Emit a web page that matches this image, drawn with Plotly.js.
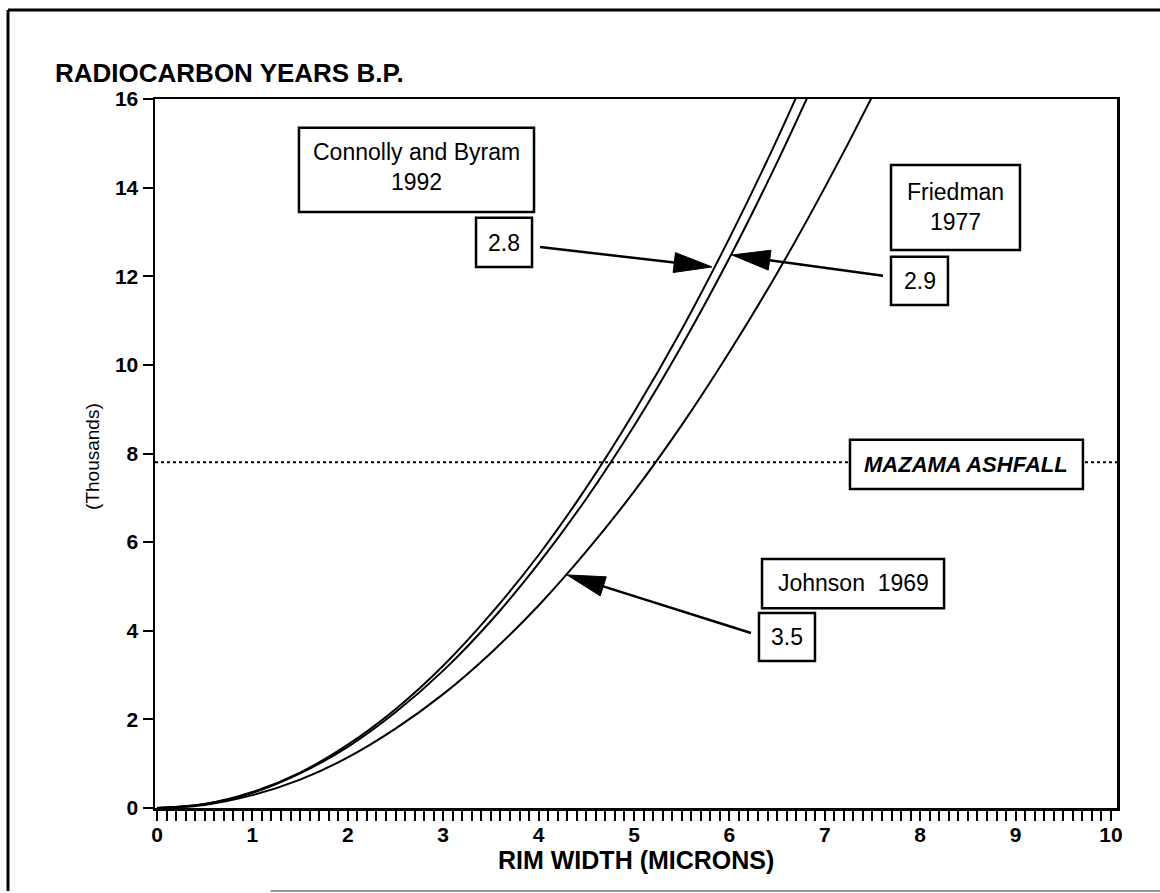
<!DOCTYPE html>
<html>
<head>
<meta charset="utf-8">
<script src="https://cdn.plot.ly/plotly-3.0.1.min.js"></script>
<style>html,body{margin:0;padding:0;background:#fff;}#chart{width:1160px;height:893px;}</style>
</head>
<body>
<div id="chart"></div>
<script>
// Rim width (microns)
const rimWidth = [0, 0.5, 1, 1.5, 2, 2.5, 3, 3.5, 4, 4.5, 5, 5.5, 6, 6.5, 7];
const rimWidthJohnson = [0, 0.5, 1, 1.5, 2, 2.5, 3, 3.5, 4, 4.5, 5, 5.5, 6, 6.5, 7, 7.5, 8];
// Radiocarbon years B.P. (thousands)
const connollyByram1992 = [0, 0.09, 0.36, 0.80, 1.43, 2.23, 3.21, 4.38, 5.71, 7.23, 8.93, 10.80, 12.86, 15.09, 17.5];
const friedman1977 = [0, 0.09, 0.34, 0.78, 1.38, 2.16, 3.10, 4.22, 5.52, 6.98, 8.62, 10.43, 12.41, 14.57, 16.9];
const johnson1969 = [0, 0.07, 0.29, 0.64, 1.14, 1.79, 2.57, 3.50, 4.57, 5.79, 7.14, 8.64, 10.29, 12.07, 14.0, 16.07, 18.3];
const mazamaAshfall = 7.8;
const xTicks = [0,1,2,3,4,5,6,7,8,9,10];
const yTicks = [0,2,4,6,8,10,12,14,16];

const FONT = "'Liberation Sans', Arial, Helvetica, sans-serif";
const lineStyle = {color: '#000', width: 2};

const traces = [
  {x: rimWidth, y: connollyByram1992, mode: 'lines', line: Object.assign({shape: 'spline'}, lineStyle), name: 'Connolly and Byram 1992'},
  {x: rimWidth, y: friedman1977, mode: 'lines', line: Object.assign({shape: 'spline'}, lineStyle), name: 'Friedman 1977'},
  {x: rimWidthJohnson, y: johnson1969, mode: 'lines', line: Object.assign({shape: 'spline'}, lineStyle), name: 'Johnson 1969'}
];

const KX = 95.4, KY = 44.31;
function arrowShapes(tail, tip) {
  const dx = (tail[0] - tip[0]) * KX, dy = (tail[1] - tip[1]) * KY;
  const L = Math.hypot(dx, dy), ux = dx / L, uy = dy / L;
  const headLen = 38, halfW = 10;
  const bx = tip[0] + headLen * ux / KX, by = tip[1] + headLen * uy / KY;
  const c1 = [bx - halfW * uy / KX, by + halfW * ux / KY];
  const c2 = [bx + halfW * uy / KX, by - halfW * ux / KY];
  return [
    {type: 'line', xref: 'x', yref: 'y', x0: tail[0], y0: tail[1], x1: bx, y1: by, line: {color: '#000', width: 2.5}, layer: 'above'},
    {type: 'path', xref: 'x', yref: 'y', path: `M${tip[0]},${tip[1]} L${c1[0]},${c1[1]} L${c2[0]},${c2[1]} Z`, fillcolor: '#000', line: {color: '#000', width: 1}, layer: 'above'}
  ];
}
function box(x0, x1, y0, y1) {
  return {type: 'rect', xref: 'x', yref: 'y', x0, x1, y0, y1, fillcolor: '#fff', line: {color: '#000', width: 2.5}, layer: 'above'};
}

const shapes = [
  // outer frame
  {type: 'line', xref: 'paper', yref: 'paper', x0: -0.1528, x1: -0.1528, y0: -0.117, y1: 1.1255, line: {color: '#000', width: 3}},
  {type: 'line', xref: 'paper', yref: 'paper', x0: -0.1528, x1: 1.06, y0: 1.1255, y1: 1.1255, line: {color: '#000', width: 3}},
  {type: 'line', xref: 'paper', yref: 'paper', x0: 0.12, x1: 1.06, y0: -0.117, y1: -0.117, line: {color: '#999', width: 2}},
  // Mazama ashfall line
  {type: 'line', xref: 'paper', yref: 'y', x0: 0, x1: 1, y0: mazamaAshfall, y1: mazamaAshfall, line: {color: '#000', width: 2, dash: 'dot'}, layer: 'above'},
  box(1.488, 3.952, 13.45, 15.35),
  box(3.344, 3.931, 12.21, 13.32),
  box(7.694, 9.046, 12.59, 14.51),
  box(7.694, 8.291, 11.35, 12.44),
  box(7.264, 9.706, 7.20, 8.31),
  box(6.342, 8.250, 4.51, 5.62),
  box(6.310, 6.897, 3.32, 4.40),
  ...arrowShapes([4.015, 12.66], [5.818, 12.21]),
  ...arrowShapes([7.610, 12.01], [6.027, 12.48]),
  ...arrowShapes([6.226, 3.95], [4.298, 5.26])
];

function txt(text, x, y, size, extra) {
  return Object.assign({text, x, y, xref: 'x', yref: 'y', showarrow: false, xanchor: 'center', yanchor: 'middle',
    font: {family: FONT, size: size, color: '#000'}}, extra || {});
}

const annotations = [
  {text: 'RADIOCARBON YEARS B.P.', xref: 'paper', yref: 'paper', x: -0.106, y: 1.036, xanchor: 'left', yanchor: 'middle', showarrow: false,
   font: {family: FONT, size: 26, color: '#000', weight: 'bold'}},
  {text: '(Thousands)', xref: 'paper', yref: 'paper', x: -0.0645, y: 0.4965, xanchor: 'center', yanchor: 'middle', textangle: -90, showarrow: false,
   font: {family: FONT, size: 19, color: '#000'}},
  {text: 'RIM WIDTH (MICRONS)', xref: 'paper', yref: 'paper', x: 0.5, y: -0.0735, xanchor: 'center', yanchor: 'middle', showarrow: false,
   font: {family: FONT, size: 25, color: '#000', weight: 'bold'}},
  txt('Connolly and Byram<br>1992', 2.720, 14.47, 23),
  txt('2.8', 3.637, 12.76, 23),
  txt('Friedman<br>1977', 8.370, 13.56, 23),
  txt('2.9', 7.993, 11.89, 23),
  txt('<b><i>MAZAMA ASHFALL</i></b>', 8.480, 7.76, 22),
  txt('Johnson  1969', 7.296, 5.07, 23),
  txt('3.5', 6.604, 3.86, 23)
];

const layout = {
  width: 1160, height: 893,
  margin: {l: 155, r: 43, t: 99, b: 85},
  paper_bgcolor: '#fff', plot_bgcolor: '#fff',
  showlegend: false,
  font: {family: FONT, color: '#000'},
  xaxis: {
    range: [-0.021, 10.063], tickmode: 'array', tickvals: xTicks, ticktext: xTicks.map(String),
    ticks: 'outside', ticklen: 10, tickwidth: 2, tickcolor: '#000', ticklabelstandoff: -4,
    minor: {dtick: 0.1, tick0: 0, ticks: 'outside', ticklen: 10, tickwidth: 2, tickcolor: '#000', showgrid: false},
    showgrid: false, zeroline: false, showline: true, linewidth: 2.5, linecolor: '#000', mirror: true,
    tickfont: {family: FONT, size: 21, color: '#000', weight: 'bold'}
  },
  yaxis: {
    range: [0, 16], tickmode: 'array', tickvals: yTicks, ticktext: yTicks.map(String),
    ticks: 'outside', ticklen: 10, tickwidth: 2, tickcolor: '#000',
    showgrid: false, zeroline: false, showline: true, linewidth: 2.5, linecolor: '#000', mirror: true,
    tickfont: {family: FONT, size: 21, color: '#000', weight: 'bold'}
  },
  shapes, annotations
};

Plotly.newPlot('chart', traces, layout, {staticPlot: true, displayModeBar: false});
</script>
</body>
</html>
